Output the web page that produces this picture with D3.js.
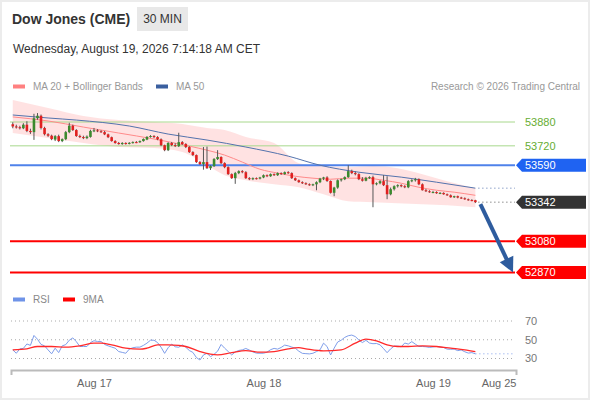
<!DOCTYPE html>
<html>
<head>
<meta charset="utf-8">
<title>Dow Jones (CME) 30 MIN</title>
<script src="https://cdnjs.cloudflare.com/ajax/libs/d3/7.8.5/d3.min.js"></script>
<style>
	body {
		margin: 0;
		background: #fff;
		font-family: "Liberation Sans", Arial, sans-serif;
	}

	.x-axis .domain {
		stroke: #bbb;
		stroke-width: 2;
	}

	.x-axis text {
		fill: #666;
		font-size: 11px;
		font-family: "Liberation Sans", Arial, sans-serif;
	}
</style>
</head>
<body>
<svg width="590" height="400"></svg>
<script>
	// 30 min candles, Aug 14 afternoon -> Aug 19 07:00
	var openPx = [53865, 53850, 53845, 53838, 53862, 53820, 53812, 53905, 53922, 53840,
		53798, 53788, 53762, 53785, 53752, 53765, 53812, 53855, 53826, 53786,
		53779, 53772, 53780, 53820, 53824, 53818, 53812, 53797, 53778, 53752,
		53739, 53732, 53739, 53733, 53740, 53745, 53744, 53752, 53762, 53780,
		53786, 53779, 53764, 53724, 53691, 53739, 53725, 53718, 53745, 53732,
		53712, 53678, 53658, 53611, 53597, 53611, 53570, 53584, 53631, 53645,
		53604, 53577, 53530, 53503, 53537, 53550, 53543, 53503, 53496, 53503,
		53500, 53508, 53523, 53516, 53530, 53523, 53537, 53530, 53543, 53537,
		53503, 53489, 53476, 53469, 53462, 53456, 53462, 53476, 53500, 53508,
		53484, 53405, 53440, 53489, 53496, 53510, 53550, 53537, 53530, 53496,
		53486, 53505, 53510, 53462, 53469, 53483, 53456, 53395, 53429, 53449,
		53456, 53449, 53442, 53483, 53489, 53496, 53462, 53422, 53415, 53409,
		53410, 53402, 53404, 53395, 53388, 53375, 53382, 53373, 53368, 53361,
		53356, 53355];

	var highPx = [53878, 53862, 53855, 53872, 53885, 53835, 53935, 53940, 53930, 53848,
		53805, 53795, 53792, 53795, 53770, 53820, 53875, 53862, 53832, 53795,
		53788, 53790, 53828, 53840, 53832, 53825, 53820, 53802, 53782, 53758,
		53746, 53745, 53744, 53745, 53750, 53752, 53756, 53770, 53785, 53792,
		53792, 53785, 53770, 53728, 53745, 53746, 53738, 53808, 53752, 53738,
		53718, 53684, 53662, 53618, 53712, 53715, 53590, 53638, 53691, 53650,
		53610, 53582, 53535, 53545, 53556, 53557, 53550, 53510, 53508, 53508,
		53512, 53528, 53528, 53535, 53535, 53542, 53542, 53548, 53550, 53542,
		53508, 53494, 53482, 53475, 53468, 53466, 53482, 53505, 53512, 53516,
		53488, 53445, 53495, 53500, 53515, 53590, 53560, 53548, 53536, 53510,
		53512, 53516, 53520, 53475, 53490, 53523, 53516, 53440, 53455, 53462,
		53462, 53456, 53490, 53496, 53505, 53502, 53468, 53430, 53422, 53418,
		53415, 53410, 53408, 53400, 53394, 53385, 53386, 53378, 53374, 53366,
		53362, 53358];

	var lowPx = [53838, 53836, 53830, 53832, 53812, 53800, 53760, 53895, 53830, 53790,
		53780, 53758, 53752, 53745, 53745, 53758, 53805, 53820, 53780, 53772,
		53765, 53765, 53775, 53812, 53812, 53806, 53792, 53772, 53748, 53734,
		53728, 53727, 53728, 53730, 53735, 53738, 53740, 53748, 53758, 53775,
		53772, 53758, 53718, 53684, 53685, 53718, 53712, 53712, 53726, 53705,
		53672, 53652, 53605, 53592, 53560, 53565, 53558, 53578, 53625, 53598,
		53570, 53525, 53498, 53465, 53530, 53536, 53498, 53490, 53490, 53494,
		53495, 53503, 53510, 53512, 53518, 53518, 53525, 53526, 53532, 53498,
		53484, 53472, 53464, 53458, 53452, 53450, 53422, 53470, 53490, 53478,
		53400, 53382, 53432, 53480, 53490, 53505, 53530, 53522, 53490, 53480,
		53482, 53498, 53308, 53455, 53462, 53450, 53362, 53388, 53420, 53440,
		53442, 53436, 53436, 53476, 53480, 53456, 53420, 53410, 53405, 53402,
		53398, 53396, 53392, 53384, 53372, 53370, 53368, 53364, 53358, 53352,
		53348, 53336];

	var closePx = [53850, 53845, 53838, 53862, 53820, 53812, 53905, 53922, 53840, 53798,
		53788, 53765, 53785, 53752, 53765, 53812, 53855, 53826, 53786, 53779,
		53772, 53782, 53820, 53824, 53818, 53812, 53797, 53778, 53752, 53739,
		53732, 53739, 53733, 53740, 53745, 53744, 53752, 53766, 53780, 53786,
		53779, 53764, 53724, 53691, 53739, 53725, 53718, 53745, 53732, 53712,
		53678, 53658, 53611, 53597, 53611, 53570, 53584, 53631, 53645, 53604,
		53577, 53530, 53503, 53537, 53550, 53543, 53503, 53496, 53503, 53500,
		53508, 53523, 53516, 53530, 53523, 53537, 53530, 53543, 53537, 53503,
		53489, 53476, 53469, 53462, 53456, 53462, 53476, 53500, 53508, 53484,
		53405, 53440, 53489, 53496, 53510, 53550, 53537, 53530, 53496, 53486,
		53505, 53510, 53462, 53469, 53483, 53456, 53395, 53429, 53449, 53456,
		53449, 53442, 53483, 53489, 53496, 53462, 53422, 53415, 53409, 53410,
		53402, 53404, 53395, 53388, 53375, 53382, 53373, 53368, 53361, 53356,
		53355, 53342];

	// indicator readings (candle index -> value)
	var ma20Idx = [0, 10, 20, 30, 40, 50, 55, 60, 65, 70, 75, 80, 85, 90, 95, 100, 105, 110, 115, 120, 125, 131];
	var ma20Val = [53914, 53887, 53846, 53806, 53766, 53718, 53691, 53658, 53611, 53563, 53537,
		53516, 53503, 53496, 53503, 53503, 53489, 53469, 53442, 53422, 53409, 53388];

	var bbIdx = [0, 10, 20, 30, 40, 48, 55, 60, 66, 74, 81, 88, 95, 102, 109, 116, 123, 131];
	var bbUpper = [54028, 53974, 53920, 53893, 53880, 53867, 53840, 53826, 53779, 53739, 53604,
		53584, 53577, 53584, 53570, 53530, 53483, 53436];
	var bbLower = [53806, 53772, 53739, 53712, 53705, 53678, 53590, 53523, 53489, 53462, 53442,
		53395, 53348, 53341, 53335, 53328, 53321, 53308];

	var ma50Idx = [0, 10, 18, 33, 44, 55, 66, 78, 87, 98, 110, 120, 131];
	var ma50Val = [53927, 53907, 53893, 53853, 53799, 53759, 53712, 53651, 53590, 53543, 53510, 53476, 53436];

	var rsiVal = [39.2, 35.6, 40.3, 40.8, 45.5, 44, 54.6, 50.5, 45, 43.5,
		39.2, 35, 41, 36.3, 43.5, 44.8, 49.5, 52, 48, 42.8,
		42.8, 42.8, 47, 48.9, 48.2, 48.2, 45, 43.5, 42.2, 41,
		37.4, 36.5, 35.6, 40, 41.5, 42.1, 42.1, 44, 46.4, 49.5,
		49.5, 47, 42, 35.5, 41.5, 45.4, 42.5, 42, 44.5, 42,
		38.5, 36.5, 31, 28.4, 33.8, 35.5, 32, 34.5, 37.8, 45,
		41, 37.5, 33.8, 37, 38.6, 39.2, 40.7, 39, 37, 35.7,
		35.6, 35.6, 36.8, 39.4, 40.8, 40, 41.8, 44.3, 43.5, 42.2,
		41, 37.8, 35.5, 35.2, 34.9, 35.6, 37.4, 39.2, 46.4, 42.8,
		33.8, 41, 47.6, 49.5, 52.5, 54.3, 55, 53.4, 49.8, 47,
		49.4, 46.5, 45.8, 46, 44.6, 40.5, 36.2, 40.3, 43.2, 43.2,
		42.5, 46.5, 45.4, 48, 45.3, 42.8, 42.8, 42.5, 41.8, 42.3,
		42.8, 42.3, 41.7, 40, 39.8, 40, 38.4, 39.1, 37.2, 35.8,
		36.3, 35];

	var rsiMaIdx = [0, 4, 7, 11, 15, 19, 23, 25, 28, 32, 36, 38, 41, 44, 47, 49, 53, 58, 62, 66,
		70, 74, 78, 81, 83, 88, 93, 97, 100, 103, 106, 109, 112, 116, 120, 124, 128, 131];
	var rsiMaVal = [39.2, 40.3, 42.8, 42.8, 42.1, 43.5, 46.4, 46.4, 44.6, 41, 39.9, 41, 44.6, 44.6,
		43.9, 42.8, 37.4, 33.8, 36.3, 38.5, 36.7, 37.4, 40.3, 41.5, 40.3, 38.1, 39.2, 46.4,
		50.7, 48.9, 44.6, 42.8, 42.8, 43.5, 42.8, 41, 39.2, 37.4];

	var resistLevels = [53880, 53720];
	var pivotLevel = 53590;
	var supportLevels = [53080, 52870];
	var lastPrice = 53342;

	var dateTicks = [23, 71, 119, 142.5];
	var dateLabels = ["Aug 17", "Aug 18", "Aug 19", "Aug 25"];
	var rsiTicks = [70, 50, 30];

	var svg = d3.select("svg");

	var x = d3.scaleLinear().domain([-0.5, 142.5]).range([11, 516]);
	var y = d3.scaleLinear().domain([52870, 53880]).range([272.5, 122]);
	var yr = d3.scaleLinear().domain([30, 70]).range([358.5, 321]);

	var lastIdx = closePx.length - 1;
	var plotRight = 515,
		labelX = 525;

	// frame
	svg.append("rect")
		.attr("x", 1).attr("y", 1)
		.attr("width", 588).attr("height", 398)
		.attr("fill", "none")
		.attr("stroke", "#ececec")
		.attr("stroke-width", 2);

	// header
	svg.append("text")
		.attr("x", 12).attr("y", 23.5)
		.attr("font-size", 14).attr("font-weight", "bold")
		.attr("fill", "#333")
		.text("Dow Jones (CME)");

	svg.append("rect")
		.attr("x", 137).attr("y", 7)
		.attr("width", 51).attr("height", 24)
		.attr("fill", "#e8e8e8");

	svg.append("text")
		.attr("x", 162.5).attr("y", 23)
		.attr("text-anchor", "middle")
		.attr("font-size", 12).attr("fill", "#333")
		.text("30 MIN");

	svg.append("text")
		.attr("x", 13).attr("y", 53)
		.attr("font-size", 12).attr("fill", "#333")
		.text("Wednesday, August 19, 2026 7:14:18 AM CET");

	// legend
	var legend = [
		{ x: 13, color: "#ff8080", label: "MA 20 + Bollinger Bands" },
		{ x: 156, color: "#3a5f9f", label: "MA 50" }
	];
	legend.forEach(function(d) {
		svg.append("rect")
			.attr("x", d.x).attr("y", 84.5)
			.attr("width", 12).attr("height", 4)
			.attr("fill", d.color);
		svg.append("text")
			.attr("x", d.x + 20).attr("y", 90)
			.attr("font-size", 10).attr("fill", "#999")
			.text(d.label);
	});

	svg.append("text")
		.attr("x", 580).attr("y", 90)
		.attr("text-anchor", "end")
		.attr("font-size", 10).attr("fill", "#999")
		.text("Research \u00a9 2026 Trading Central");

	// bollinger band + moving averages
	var band = d3.area()
		.x(function(d, i) { return x(bbIdx[i]); })
		.y0(function(d, i) { return y(bbLower[i]); })
		.y1(function(d) { return y(d); })
		.curve(d3.curveMonotoneX);

	svg.append("path")
		.datum(bbUpper)
		.attr("d", band)
		.attr("fill", "#ffd6d6")
		.attr("fill-opacity", 0.7);

	function maLine(idx) {
		return d3.line()
			.x(function(d, i) { return x(idx[i]); })
			.y(function(d) { return y(d); })
			.curve(d3.curveMonotoneX);
	}

	// level lines
	resistLevels.forEach(function(v) {
		svg.append("line")
			.attr("x1", 10).attr("x2", plotRight)
			.attr("y1", y(v)).attr("y2", y(v))
			.attr("stroke", "#a8d88c").attr("stroke-width", 1);
		svg.append("text")
			.attr("x", labelX).attr("y", y(v))
			.attr("dy", "0.35em")
			.attr("font-size", 11).attr("fill", "#66ad33")
			.text(v);
	});

	svg.append("line")
		.attr("x1", 10).attr("x2", plotRight)
		.attr("y1", y(pivotLevel)).attr("y2", y(pivotLevel))
		.attr("stroke", "#4f82ea").attr("stroke-width", 2);

	supportLevels.forEach(function(v) {
		svg.append("line")
			.attr("x1", 10).attr("x2", plotRight)
			.attr("y1", y(v)).attr("y2", y(v))
			.attr("stroke", "#ff0000").attr("stroke-width", 2);
	});

	svg.append("path")
		.datum(ma20Val)
		.attr("d", maLine(ma20Idx))
		.attr("fill", "none")
		.attr("stroke", "#ff8a8a")
		.attr("stroke-width", 1);

	svg.append("path")
		.datum(ma50Val)
		.attr("d", maLine(ma50Idx))
		.attr("fill", "none")
		.attr("stroke", "#5473ad")
		.attr("stroke-width", 1);

	// dotted extensions to the price scale
	svg.append("line")
		.attr("x1", x(lastIdx) + 3).attr("x2", plotRight)
		.attr("y1", y(ma50Val[ma50Val.length - 1])).attr("y2", y(ma50Val[ma50Val.length - 1]))
		.attr("stroke", "#5473ad").attr("stroke-dasharray", "1,3");

	svg.append("line")
		.attr("x1", x(lastIdx) + 3).attr("x2", plotRight)
		.attr("y1", y(lastPrice)).attr("y2", y(lastPrice))
		.attr("stroke", "#555").attr("stroke-dasharray", "1,3");

	// candles
	var bodyW = 2.6;
	var candle = svg.append("g").selectAll("g")
		.data(closePx)
		.enter().append("g");

	candle.append("line")
		.attr("x1", function(d, i) { return x(i); })
		.attr("x2", function(d, i) { return x(i); })
		.attr("y1", function(d, i) { return y(highPx[i]); })
		.attr("y2", function(d, i) { return y(lowPx[i]); })
		.attr("stroke", "#555")
		.attr("stroke-width", 1);

	candle.append("rect")
		.attr("x", function(d, i) { return x(i) - bodyW / 2; })
		.attr("y", function(d, i) { return y(Math.max(openPx[i], d)); })
		.attr("width", bodyW)
		.attr("height", function(d, i) { return Math.max(1, Math.abs(y(openPx[i]) - y(d))); })
		.attr("fill", function(d, i) {
			if (d === openPx[i]) return "#444";
			return d > openPx[i] ? "#3b8a2e" : "#e0201f";
		});

	// forecast arrow
	var a0 = [x(lastIdx) + 5, y(lastPrice) + 2],
		a1 = [513, y(supportLevels[1])];
	var dx = a1[0] - a0[0],
		dy = a1[1] - a0[1],
		len = Math.sqrt(dx * dx + dy * dy),
		ux = dx / len,
		uy = dy / len,
		headL = 15,
		headW = 7.5;

	svg.append("line")
		.attr("x1", a0[0]).attr("y1", a0[1])
		.attr("x2", a1[0] - ux * (headL - 2)).attr("y2", a1[1] - uy * (headL - 2))
		.attr("stroke", "#2e5c9e")
		.attr("stroke-width", 4);

	svg.append("path")
		.attr("d", "M" + a1[0] + "," + a1[1] +
			"L" + (a1[0] - ux * headL - uy * headW) + "," + (a1[1] - uy * headL + ux * headW) +
			"L" + (a1[0] - ux * headL + uy * headW) + "," + (a1[1] - uy * headL - ux * headW) + "Z")
		.attr("fill", "#2e5c9e");

	// price tags
	function priceTag(v, color) {
		var yy = y(v);
		svg.append("path")
			.attr("d", "M516," + yy + "L522," + (yy - 6.5) + "L586," + (yy - 6.5) +
				"L586," + (yy + 6.5) + "L522," + (yy + 6.5) + "Z")
			.attr("fill", color);
		svg.append("text")
			.attr("x", labelX).attr("y", yy)
			.attr("dy", "0.36em")
			.attr("font-size", 11).attr("fill", "#fff")
			.text(v);
	}
	priceTag(pivotLevel, "#1f63f2");
	priceTag(lastPrice, "#333");
	supportLevels.forEach(function(v) { priceTag(v, "#ff0000"); });

	// RSI panel
	var rsiLegend = [
		{ x: 13, color: "#6f93e8", label: "RSI" },
		{ x: 63, color: "#ff0000", label: "9MA" }
	];
	rsiLegend.forEach(function(d) {
		svg.append("rect")
			.attr("x", d.x).attr("y", 297.5)
			.attr("width", 12).attr("height", 4)
			.attr("fill", d.color);
		svg.append("text")
			.attr("x", d.x + 20).attr("y", 303)
			.attr("font-size", 10).attr("fill", "#888")
			.text(d.label);
	});

	rsiTicks.forEach(function(v) {
		svg.append("line")
			.attr("x1", 11).attr("x2", plotRight)
			.attr("y1", yr(v)).attr("y2", yr(v))
			.attr("stroke", "#aaa").attr("stroke-dasharray", "1,3");
		svg.append("text")
			.attr("x", labelX).attr("y", yr(v))
			.attr("dy", "0.35em")
			.attr("font-size", 11).attr("fill", "#777")
			.text(v);
	});

	svg.append("path")
		.datum(rsiVal)
		.attr("d", d3.line()
			.x(function(d, i) { return x(i); })
			.y(function(d) { return yr(d); }))
		.attr("fill", "none")
		.attr("stroke", "#7f9eea")
		.attr("stroke-width", 1);

	svg.append("path")
		.datum(rsiMaVal)
		.attr("d", d3.line()
			.x(function(d, i) { return x(rsiMaIdx[i]); })
			.y(function(d) { return yr(d); })
			.curve(d3.curveMonotoneX))
		.attr("fill", "none")
		.attr("stroke", "#ff2a2a")
		.attr("stroke-width", 1.3);

	svg.append("line")
		.attr("x1", x(lastIdx)).attr("x2", plotRight)
		.attr("y1", yr(rsiVal[lastIdx])).attr("y2", yr(rsiVal[lastIdx]))
		.attr("stroke", "#7f9eea").attr("stroke-dasharray", "1,3");

	// time axis
	var xAxis = d3.axisBottom(x)
		.tickValues(dateTicks)
		.tickFormat(function(d, i) { return dateLabels[i]; })
		.tickSizeInner(0)
		.tickSizeOuter(5)
		.tickPadding(9);

	var gx = svg.append("g")
		.attr("class", "x-axis")
		.attr("transform", "translate(0,370)")
		.call(xAxis);

	gx.selectAll(".tick text")
		.attr("text-anchor", function(d, i) { return i === dateTicks.length - 1 ? "end" : "middle"; });
</script>
</body>
</html>
